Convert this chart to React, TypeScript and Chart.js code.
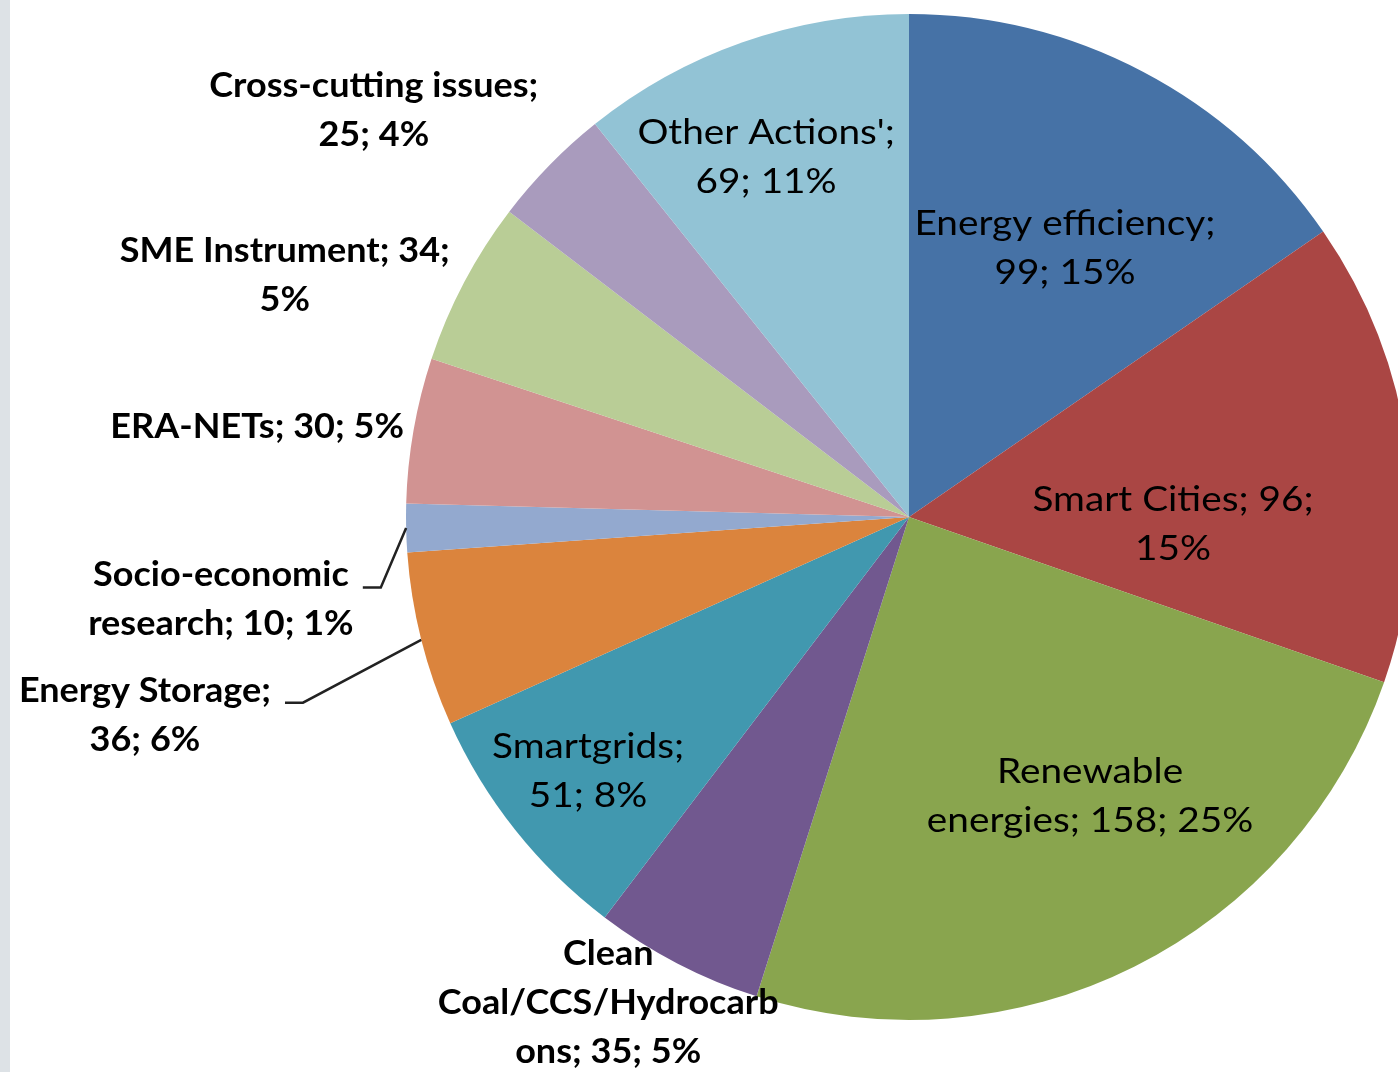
import React, { useEffect, useRef } from "react";
import { Chart, registerables } from "chart.js";

Chart.register(...registerables);

const categories = [
  "Energy efficiency",
  "Smart Cities",
  "Renewable energies",
  "Clean Coal/CCS/Hydrocarbons",
  "Smartgrids",
  "Energy Storage",
  "Socio-economic research",
  "ERA-NETs",
  "SME Instrument",
  "Cross-cutting issues",
  "Other Actions'",
];
const values = [99, 96, 158, 35, 51, 36, 10, 30, 34, 25, 69];
const percentLabels = ["15%", "15%", "25%", "5%", "8%", "6%", "1%", "5%", "5%", "4%", "11%"];
const labelLines = [
  ["Energy efficiency;", "99; 15%"],
  ["Smart Cities; 96;", "15%"],
  ["Renewable", "energies; 158; 25%"],
  ["Clean", "Coal/CCS/Hydrocarb", "ons; 35; 5%"],
  ["Smartgrids;", "51; 8%"],
  ["Energy Storage;", "36; 6%"],
  ["Socio-economic", "research; 10; 1%"],
  ["ERA-NETs; 30; 5%"],
  ["SME Instrument; 34;", "5%"],
  ["Cross-cutting issues;", "25; 4%"],
  ["Other Actions';", "69; 11%"],
];
const colors = [
  "#4672A6",
  "#AA4644",
  "#89A54E",
  "#71588F",
  "#4198AF",
  "#DB843D",
  "#93A9CF",
  "#D19392",
  "#B9CD96",
  "#A99BBD",
  "#92C3D5",
];
// label placement relative to pie centre, in units of radius; outside = bold label
const labelOffsets: [number, number][] = [
  [0.31, -0.533],
  [0.525, 0.014],
  [0.36, 0.555],
  [-0.598, 0.966],
  [-0.638, 0.507],
  [-1.519, 0.394],
  [-1.368, 0.165],
  [-1.296, -0.179],
  [-1.241, -0.481],
  [-1.064, -0.809],
  [-0.284, -0.714],
];
const outsideLabel = [false, false, false, true, false, true, true, true, true, true, false];
const hasLeader = [false, false, false, false, false, true, true, false, false, false, false];

const labelPlugin = {
  id: "sliceLabels",
  afterDatasetsDraw(chart: any) {
    const ctx = chart.ctx;
    const meta = chart.getDatasetMeta(0);
    const lineH = 49;
    ctx.save();
    meta.data.forEach((arc: any, i: number) => {
      const R = arc.outerRadius;
      const cx = arc.x + labelOffsets[i][0] * R;
      const cy = arc.y + labelOffsets[i][1] * R;
      const lines = labelLines[i];
      const bold = outsideLabel[i];
      const sx = bold ? 1.06 : 1.14;
      ctx.font = bold ? "bold 34px Lato" : "34px Lato";
      ctx.fillStyle = "#000";
      ctx.textAlign = "center";
      ctx.textBaseline = "middle";
      const top = cy - ((lines.length - 1) * lineH) / 2;
      lines.forEach((ln, k) => {
        ctx.save();
        ctx.translate(cx, top + k * lineH);
        ctx.scale(sx, 1);
        ctx.fillText(ln, 0, 0);
        ctx.restore();
      });
      if (hasLeader[i]) {
        const w = ctx.measureText(lines[0]).width * sx;
        const x0 = cx + w / 2 + 14;
        const y0 = top + 12;
        const mid = (arc.startAngle + arc.endAngle) / 2;
        const ex = arc.x + Math.cos(mid) * R;
        const ey = arc.y + Math.sin(mid) * R;
        ctx.strokeStyle = "#222";
        ctx.lineWidth = 2.5;
        ctx.beginPath();
        ctx.moveTo(x0, y0);
        ctx.lineTo(x0 + 18, y0);
        ctx.lineTo(ex, ey);
        ctx.stroke();
      }
    });
    ctx.restore();
  },
};

export default function App() {
  const ref = useRef<HTMLCanvasElement | null>(null);
  useEffect(() => {
    document.body.style.margin = "0";
    document.body.style.overflow = "hidden";
    const c = ref.current!;
    const chart = new Chart(c, {
      type: "pie",
      data: {
        labels: categories.map((c, i) => `${c}; ${values[i]}; ${percentLabels[i]}`),
        datasets: [
          {
            data: values,
            backgroundColor: colors,
            borderWidth: 0,
          },
        ],
      },
      options: {
        responsive: false,
        animation: false,
        layout: { padding: { left: 406, right: 0, top: 14, bottom: 52 } },
        plugins: {
          legend: { display: false },
          tooltip: { enabled: false },
        },
      },
      plugins: [labelPlugin],
    });
    return () => chart.destroy();
  }, []);
  return (
    <div style={{ position: "relative", width: 1398, height: 1072, overflow: "hidden", background: "#fff" }}>
      <div style={{ position: "absolute", left: 0, top: 0, width: 10, height: 1072, background: "#DDE2E6" }} />
      <canvas ref={ref} width={1412} height={1072} style={{ position: "absolute", left: 0, top: 0 }} />
    </div>
  );
}
